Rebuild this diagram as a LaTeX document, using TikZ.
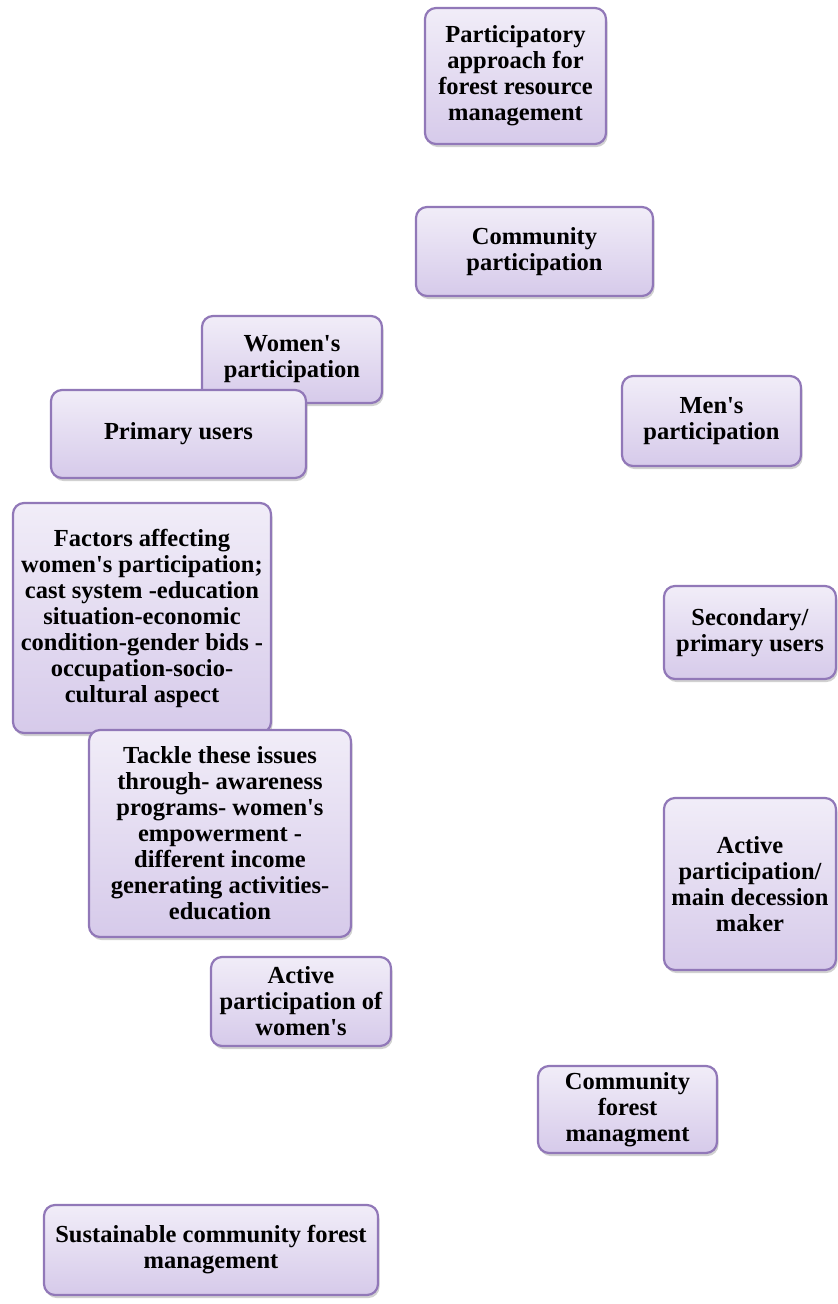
\documentclass[tikz,border=0pt]{standalone}
\usepackage{fontspec}
\setmainfont{Liberation Serif}
\usepackage{tikz}
\usetikzlibrary{shadows}
\definecolor{boxtop}{HTML}{F1EDF8}
\definecolor{boxbot}{HTML}{D6CAEA}
\definecolor{boxline}{HTML}{9178B8}
\newcommand\ap{\textquotesingle}
\tikzset{box/.style={draw=boxline, line width=2.2pt, rounded corners=11pt,
    top color=boxtop, bottom color=boxbot, inner sep=0pt, align=center,
    font=\fontsize{24.5}{26}\selectfont\bfseries,
    drop shadow={shadow xshift=1.5pt, shadow yshift=-3pt, fill=black!40, opacity=0.45}}}

\begin{document}
\begin{tikzpicture}[x=1pt,y=-1pt]

  \useasboundingbox (0,0) rectangle (838,1304);

  \node[box, minimum width=181pt, minimum height=136pt] (approach) at (515.5,76)
  {Participatory\\approach for\\forest resource\\management};
  \node[box, minimum width=237pt, minimum height=89pt] (commpart) at (534.5,251.5)
  {Community\\participation};

  %% women side
  \node[box, minimum width=180pt, minimum height=87pt] (womenpart) at (292,359.5)
  {Women\ap s\\participation};
  \node[box, minimum width=255pt, minimum height=88pt] (primary) at (178.5,434)
  {Primary users};
  \node[box, minimum width=258pt, minimum height=230pt] (factors) at (142,618)
  {Factors affecting\\women\ap s participation;\\cast system -education\\situation-economic\\condition-gender bids -\\occupation-socio-\\cultural aspect};
  \node[box, minimum width=262pt, minimum height=207pt] (tackle) at (220,833.5)
  {Tackle these issues\\through- awareness\\programs- women\ap s\\empowerment -\\different income\\generating activities-\\education};
  \node[box, minimum width=180pt, minimum height=89pt] (activewomen) at (301,1001.5)
  {Active\\participation of\\women\ap s};

  %% men side
  \node[box, minimum width=179pt, minimum height=90pt] (menpart) at (711.5,421)
  {Men\ap s\\participation};
  \node[box, minimum width=172pt, minimum height=93pt] (secondary) at (750,632.5)
  {Secondary/\\primary users};
  \node[box, minimum width=172pt, minimum height=172pt] (decision) at (750,884)
  {Active\\participation/\\main decession\\maker};
  \node[box, minimum width=179pt, minimum height=87pt] (cfm) at (627.5,1109.5)
  {Community\\forest\\managment};

  \node[box, minimum width=334pt, minimum height=90pt] (sustainable) at (211,1250)
  {Sustainable community forest\\management};

\end{tikzpicture}
\end{document}
